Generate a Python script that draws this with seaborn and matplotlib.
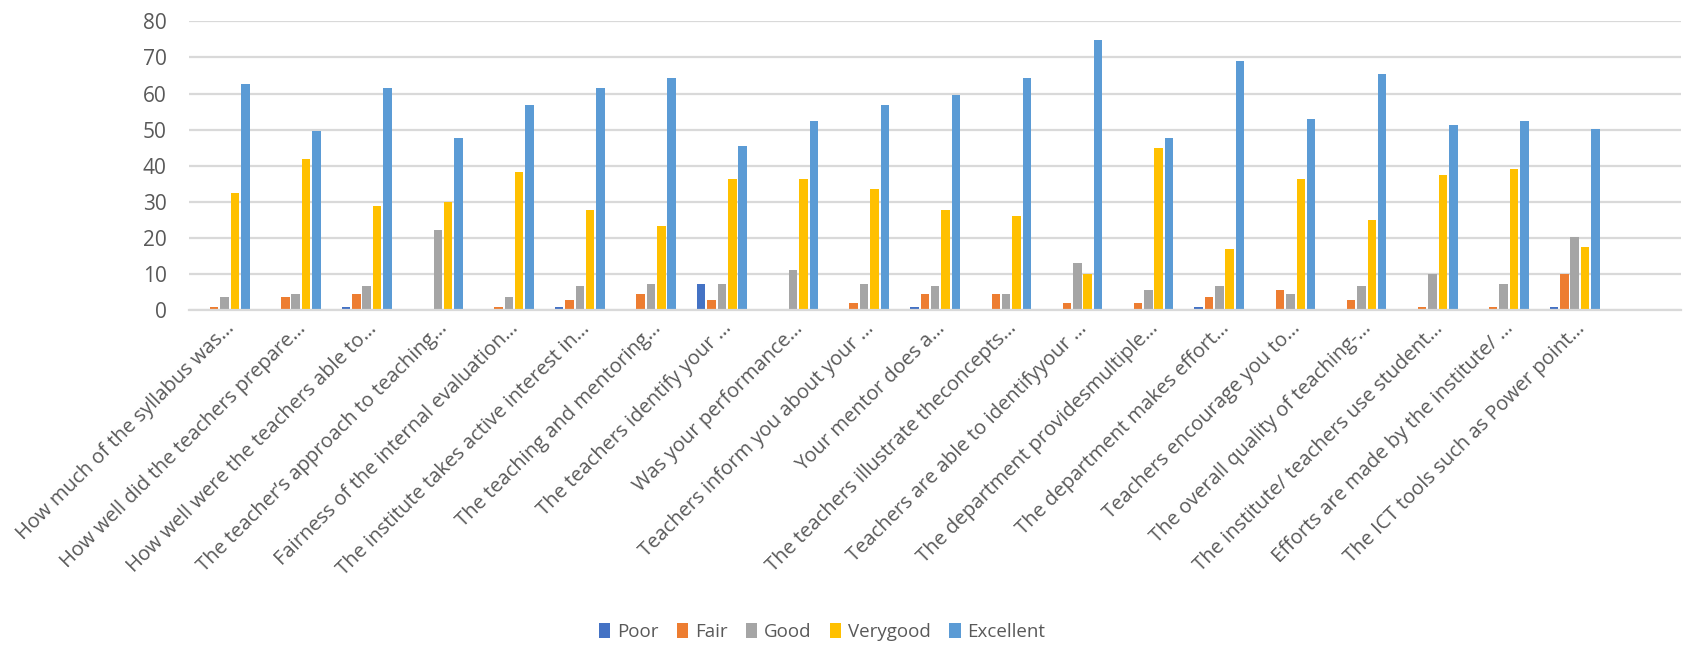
import matplotlib
matplotlib.use("Agg")
import matplotlib.pyplot as plt
import seaborn as sns
import pandas as pd
from matplotlib.patches import Patch

questions = [
    "How much of the syllabus was\u2026",
    "How well did the teachers prepare\u2026",
    "How well were the teachers able to\u2026",
    "The teacher\u2019s approach to teaching\u2026",
    "Fairness of the internal evaluation\u2026",
    "The institute takes active interest in\u2026",
    "The teaching and mentoring\u2026",
    "The teachers identify your \u2026",
    "Was your performance\u2026",
    "Teachers inform you about your \u2026",
    "Your mentor does a\u2026",
    "The teachers illustrate theconcepts\u2026",
    "Teachers are able to identifyyour \u2026",
    "The department providesmultiple\u2026",
    "The department makes effort\u2026",
    "Teachers encourage you to\u2026",
    "The overall quality of teaching-\u2026",
    "The institute/ teachers use student\u2026",
    "Efforts are made by the institute/ \u2026",
    "The ICT tools such as Power point\u2026",
]
extra_slot = [""]

ratings = ["Poor", "Fair", "Good", "Verygood", "Excellent"]

poor      = [0, 0, 0.8, 0, 0, 0.8, 0, 7.3, 0, 0, 0.8, 0, 0, 0, 0.8, 0, 0, 0, 0, 0.8]
fair      = [0.8, 3.8, 4.4, 0, 0.8, 2.7, 4.4, 2.7, 0, 1.9, 4.4, 4.4, 1.9, 1.9, 3.8, 5.5, 2.7, 0.8, 0.8, 10.1]
good      = [3.7, 4.4, 6.6, 22.1, 3.8, 6.6, 7.3, 7.3, 11.2, 7.3, 6.6, 4.4, 13.0, 5.5, 6.6, 4.4, 6.6, 10.1, 7.3, 20.4]
verygood  = [32.4, 42.0, 28.8, 30.0, 38.2, 27.8, 23.2, 36.3, 36.3, 33.5, 27.8, 26.0, 10.1, 44.9, 16.9, 36.3, 25.0, 37.4, 39.2, 17.5]
excellent = [62.6, 49.5, 61.5, 47.7, 56.9, 61.5, 64.3, 45.5, 52.3, 56.9, 59.7, 64.3, 74.7, 47.7, 69.0, 53.0, 65.4, 51.2, 52.3, 50.1]

colors = ["#4472C4", "#ED7D31", "#A5A5A5", "#FFC000", "#5B9BD5"]
yticks = [0, 10, 20, 30, 40, 50, 60, 70, 80]

series = [poor, fair, good, verygood, excellent]
rows = []
for r, vals in zip(ratings, series):
    for q, v in zip(questions, vals):
        rows.append({"Question": q, "Rating": r, "Value": v})
df = pd.DataFrame(rows)

sns.set_theme(style="white")
plt.rcParams["font.family"] = ["Open Sans", "DejaVu Sans"]
text_color = "#595959"
grid_color = "#D9D9D9"

fig = plt.figure(figsize=(16.88, 6.45), dpi=100)
ax = fig.add_axes([0.112, 0.519, 0.884, 0.448])

sns.barplot(data=df, x="Question", y="Value", hue="Rating",
            order=questions + extra_slot, hue_order=ratings,
            palette=colors, saturation=1, width=0.73, gap=0.18, linewidth=0,
            errorbar=None, ax=ax, legend=False)

ax.set_ylim(0, 80)
ax.set_yticks(yticks)
ax.set_xlim(-0.5, len(questions) + len(extra_slot) - 0.5)
ax.yaxis.grid(True, color=grid_color, linewidth=1.6)
ax.set_axisbelow(True)
for s in ["top", "right", "left"]:
    ax.spines[s].set_visible(False)
ax.spines["bottom"].set_color(grid_color)
ax.spines["bottom"].set_linewidth(1.6)
ax.set_xlabel("")
ax.set_ylabel("")
ax.tick_params(axis="y", length=0, pad=16, labelsize=15, labelcolor=text_color)
ax.tick_params(axis="x", length=0, pad=6, labelsize=14.5, labelcolor=text_color)
plt.setp(ax.get_xticklabels(), rotation=45, ha="right", va="top", rotation_mode="anchor")

handles = [Patch(facecolor=c, edgecolor="none") for c in colors]
fig.legend(handles, ratings, loc="center", bbox_to_anchor=(0.487, 0.02),
           ncol=5, frameon=False, fontsize=13.5, labelcolor=text_color,
           handlelength=0.6, handleheight=0.8, handletextpad=0.35, columnspacing=1.0)

fig.savefig("out.png", dpi=100)
